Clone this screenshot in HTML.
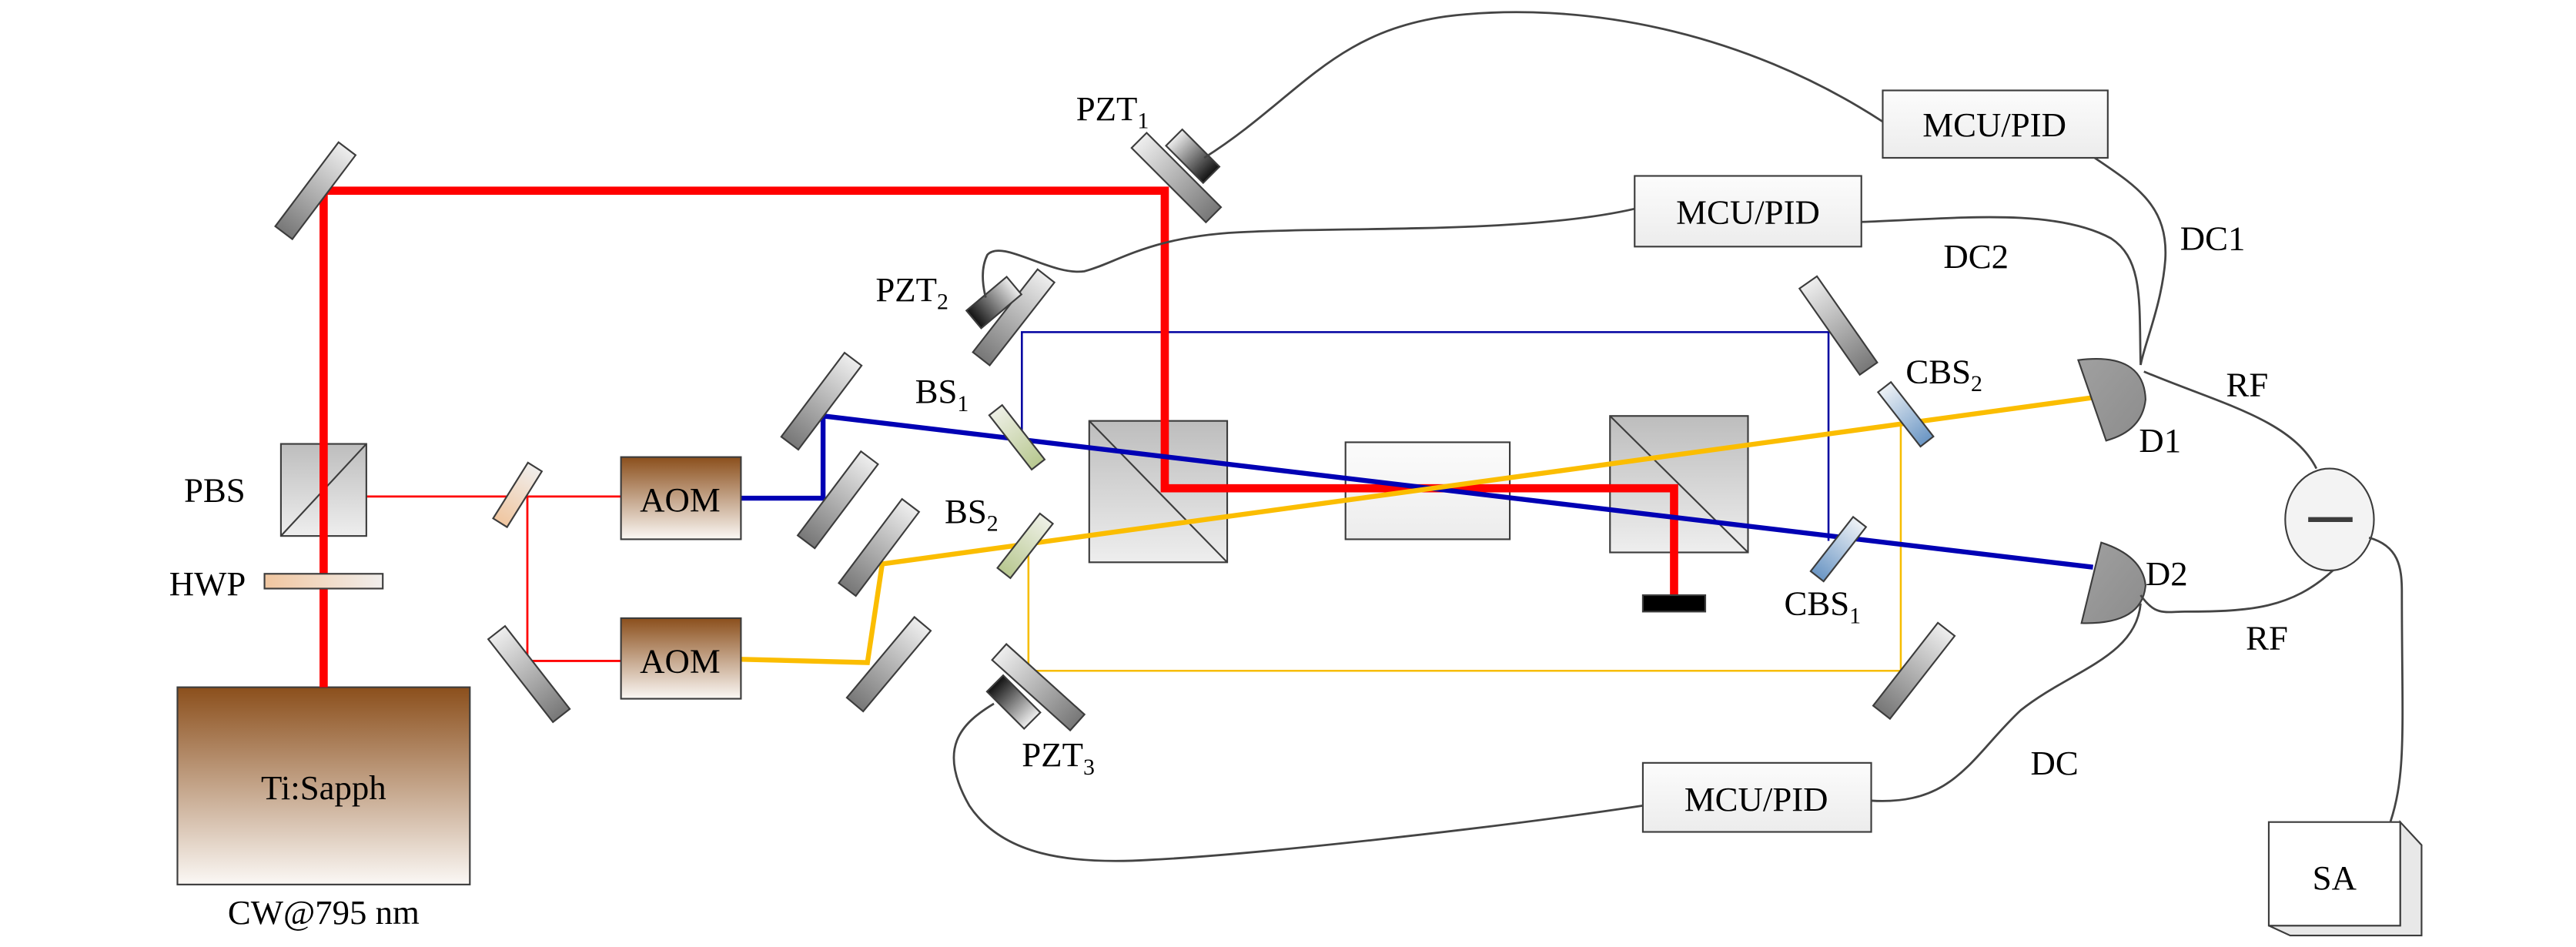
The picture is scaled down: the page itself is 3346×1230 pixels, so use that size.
<!DOCTYPE html>
<html><head><meta charset="utf-8"><style>
html,body{margin:0;padding:0;background:#fff;}
svg{display:block;}
</style></head><body>
<svg width="3346" height="1230" viewBox="0 0 1568 576" preserveAspectRatio="none" xmlns="http://www.w3.org/2000/svg">
<defs>
<linearGradient id="brown" x1="0" y1="0" x2="0" y2="1"><stop offset="0" stop-color="#8b4f1c"/><stop offset="1" stop-color="#fbf8f5"/></linearGradient>
<linearGradient id="cube" x1="0" y1="0" x2="0" y2="1"><stop offset="0" stop-color="#bdbdbd"/><stop offset="1" stop-color="#eeeeee"/></linearGradient>
<linearGradient id="light" x1="0" y1="0" x2="0" y2="1"><stop offset="0" stop-color="#fcfcfc"/><stop offset="1" stop-color="#ececec"/></linearGradient>
<linearGradient id="mir" x1="0" y1="0" x2="1" y2="0"><stop offset="0" stop-color="#777"/><stop offset="1" stop-color="#eee"/></linearGradient>
<linearGradient id="pzt" x1="0" y1="0" x2="1" y2="0"><stop offset="0" stop-color="#eee"/><stop offset="1" stop-color="#111"/></linearGradient>
<linearGradient id="peach" x1="0" y1="0" x2="1" y2="0"><stop offset="0" stop-color="#f0c6a0"/><stop offset="1" stop-color="#f0eeec"/></linearGradient>
<linearGradient id="green" x1="0" y1="0" x2="1" y2="0"><stop offset="0" stop-color="#b8c890"/><stop offset="1" stop-color="#eef0e6"/></linearGradient>
<linearGradient id="blue" x1="0" y1="0" x2="1" y2="0"><stop offset="0" stop-color="#6b96c4"/><stop offset="1" stop-color="#eef2f6"/></linearGradient>
<linearGradient id="det" x1="0" y1="0" x2="1" y2="1"><stop offset="0" stop-color="#a0a0a0"/><stop offset="1" stop-color="#8c8c8c"/></linearGradient>
</defs>
<g stroke="#3c3c3c" stroke-width="1">
<rect x="108" y="418" width="178" height="120" fill="url(#brown)"/>
<polyline points="197,302 378,302" fill="none" stroke="#f00" stroke-width="1.3"/>
<polyline points="321,302 321,402 378,402" fill="none" stroke="#f00" stroke-width="1.3"/>
<polyline points="622,262 622,202 1113,202 1113,329" fill="none" stroke="#0000a0" stroke-width="1.2"/>
<polyline points="626,336 626,408 1157,408 1157,257" fill="none" stroke="#f7bd00" stroke-width="1.2"/>
<rect x="663" y="256" width="84" height="86" fill="url(#cube)"/>
<line x1="663" y1="256" x2="747" y2="342"/>
<rect x="819" y="269" width="100" height="59" fill="url(#light)"/>
<rect x="980" y="253" width="84" height="83" fill="url(#cube)"/>
<line x1="980" y1="253" x2="1064" y2="336"/>
<rect x="171" y="270" width="52" height="56" fill="url(#cube)"/>
<line x1="171" y1="326" x2="223" y2="270"/>
<polyline points="197,418 197,116 709,116 709,297 1019,297 1019,364" fill="none" stroke="#f00" stroke-width="5" stroke-linejoin="miter"/>
<polyline points="451,303 501,303 501,253 1274,345" fill="none" stroke="#0000b4" stroke-width="3"/>
<polyline points="451,401 528,403 537,343 1280,241" fill="none" stroke="#fbbd00" stroke-width="3"/>
<rect x="1000" y="362" width="38" height="10" fill="#000"/>
<rect x="161" y="349" width="72" height="9" fill="url(#peach)"/>
<rect x="378" y="278" width="73" height="50" fill="url(#brown)"/>
<rect x="378" y="376" width="73" height="49" fill="url(#brown)"/>
<g fill="url(#mir)">
<rect x="-32" y="-6.5" width="64" height="13" transform="translate(192,116) rotate(-53)"/>
<rect x="-32" y="-6.5" width="64" height="13" transform="translate(500,244) rotate(-53)"/>
<rect x="-32" y="-6.5" width="64" height="13" transform="translate(510,304) rotate(-53)"/>
<rect x="-32" y="-6.5" width="64" height="13" transform="translate(535,333) rotate(-53)"/>
<rect x="-32" y="-6.5" width="64" height="13" transform="translate(541,404) rotate(-50)"/>
<rect x="-32" y="-6.5" width="64" height="13" transform="translate(1165,408) rotate(-52)"/>
<rect x="-32" y="-6.5" width="64" height="13" transform="translate(617,193) rotate(-52)"/>
<rect x="-32" y="-6.5" width="64" height="13" transform="translate(322,410) rotate(-128)"/>
<rect x="-32" y="-6.5" width="64" height="13" transform="translate(716,108) rotate(-135)"/>
<rect x="-32" y="-6.5" width="64" height="13" transform="translate(1119,198) rotate(-125)"/>
<rect x="-32" y="-6.5" width="64" height="13" transform="translate(632,418) rotate(-138)"/>
</g>
<g fill="url(#pzt)">
<rect x="-16" y="-7" width="32" height="14" transform="translate(726,95) rotate(45)"/>
<rect x="-16" y="-7" width="32" height="14" transform="translate(605,184) rotate(140)"/>
<rect x="-16" y="-7" width="32" height="14" transform="translate(617,427) rotate(-135)"/>
</g>
<rect x="-20" y="-5" width="40" height="10" fill="url(#peach)" transform="translate(315,301) rotate(-58)"/>
<rect x="-21" y="-5" width="42" height="10" fill="url(#green)" transform="translate(619,266) rotate(-128)"/>
<rect x="-21" y="-5" width="42" height="10" fill="url(#green)" transform="translate(624,332) rotate(-52)"/>
<rect x="-21" y="-5" width="42" height="10" fill="url(#blue)" transform="translate(1160,252) rotate(-128)"/>
<rect x="-21" y="-5" width="42" height="10" fill="url(#blue)" transform="translate(1119,334) rotate(-52)"/>
<path d="M1265,219 Q1305,214 1306,243 Q1304,262 1282,268 Z" fill="url(#det)"/>
<path d="M1279,330 Q1304,338 1306,356 Q1304,380 1267,379 Z" fill="url(#det)"/>
<ellipse cx="1418" cy="316" rx="27" ry="31" fill="#f3f3f3"/>
<line x1="1405" y1="316" x2="1432" y2="316" stroke-width="3"/>
<path d="M1381,563 L1394,569 L1474,569 L1474,514 L1461,500 L1461,563 Z" fill="#e8e8e8"/>
<rect x="1381" y="500" width="80" height="63" fill="#fff"/>
<rect x="1146" y="55" width="137" height="41" fill="url(#light)"/>
<rect x="995" y="107" width="138" height="43" fill="url(#light)"/>
<rect x="1000" y="464" width="139" height="42" fill="url(#light)"/>
<g fill="none" stroke="#444" stroke-width="1.3">
<path d="M733,96 C790,60 810,20 880,10 C960,0 1060,18 1146,74"/>
<path d="M1275,96 C1300,113 1320,125 1318,158 C1316,185 1305,210 1303,222"/>
<path d="M1133,135 C1190,133 1250,126 1285,145 C1305,158 1302,185 1303,222"/>
<path d="M995,127 C930,142 820,138 760,141 C700,143 680,160 660,165 C640,168 610,145 601,155 C597,163 598,173 600,181"/>
<path d="M1139,487 C1190,490 1200,460 1230,432 C1260,408 1300,400 1303,367"/>
<path d="M1000,490 C900,505 760,520 700,523 C650,526 610,520 590,490 C570,455 585,440 605,428"/>
<path d="M1305,226 C1350,245 1395,255 1410,285"/>
<path d="M1303,362 C1312,375 1318,372 1330,372 C1370,372 1395,370 1420,347"/>
<path d="M1442,327 C1460,332 1462,345 1462,360 C1462,440 1465,470 1455,500"/>
</g>
</g>
<g font-family="'Liberation Serif','DejaVu Serif',serif" font-size="21" fill="#000">
<text x="197" y="486" text-anchor="middle">Ti:Sapph</text>
<text x="197" y="562" text-anchor="middle">CW@795 nm</text>
<text x="414" y="311" text-anchor="middle">AOM</text>
<text x="414" y="409" text-anchor="middle">AOM</text>
<text x="112" y="305">PBS</text>
<text x="103" y="362">HWP</text>
<text x="655" y="73">PZT<tspan font-size="14" dy="5">1</tspan></text>
<text x="533" y="183">PZT<tspan font-size="14" dy="5">2</tspan></text>
<text x="622" y="466">PZT<tspan font-size="14" dy="5">3</tspan></text>
<text x="557" y="245">BS<tspan font-size="14" dy="5">1</tspan></text>
<text x="575" y="318">BS<tspan font-size="14" dy="5">2</tspan></text>
<text x="1160" y="233">CBS<tspan font-size="14" dy="5">2</tspan></text>
<text x="1086" y="374">CBS<tspan font-size="14" dy="5">1</tspan></text>
<text x="1214" y="83" text-anchor="middle">MCU/PID</text>
<text x="1064" y="136" text-anchor="middle">MCU/PID</text>
<text x="1069" y="493" text-anchor="middle">MCU/PID</text>
<text x="1327" y="152">DC1</text>
<text x="1183" y="163">DC2</text>
<text x="1236" y="471">DC</text>
<text x="1355" y="241">RF</text>
<text x="1367" y="395">RF</text>
<text x="1302" y="275">D1</text>
<text x="1306" y="356">D2</text>
<text x="1421" y="541" text-anchor="middle">SA</text>
</g>
</svg>
</body></html>
